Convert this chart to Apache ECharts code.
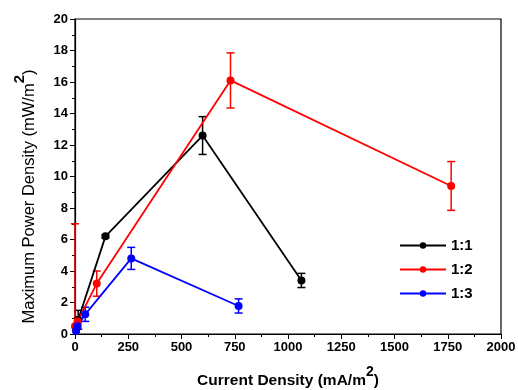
<!DOCTYPE html>
<html>
<head>
<meta charset="utf-8">
<script src="https://cdn.jsdelivr.net/npm/echarts@6/dist/echarts.min.js"></script>
<style>
  html, body { margin: 0; padding: 0; background: #fff; }
  #chart { width: 518px; height: 390px; }
</style>
</head>
<body>
<div id="chart"></div>
<script>
// ratio series
const seriesNames = ['1:1', '1:2', '1:3']
const colors = ['#000000', '#ff0000', '#0000ff']

const blackX = [15, 143, 599, 1063]
const blackY = [0.9, 6.2, 12.6, 3.4]
const blackErr = [0.6, 0.1, 1.2, 0.45]

const redX = [0, 12, 102, 730, 1766]
const redY = [0.5, 0.8, 3.2, 16.1, 9.4]
const redErr = [6.5, 0.2, 0.8, 1.75, 1.55]

const blueX = [5, 12, 48, 264, 768]
const blueY = [0.2, 0.5, 1.25, 4.8, 1.78]
const blueErr = [0.1, 0.2, 0.45, 0.7, 0.45]

const allX = [blackX, redX, blueX]
const allY = [blackY, redY, blueY]
const allErr = [blackErr, redErr, blueErr]

const chart = echarts.init(document.getElementById('chart'))

const font = 'Liberation Sans, Arial, sans-serif'

function errorBar(color) {
  return function (params, api) {
    const x = api.value(0)
    const y = api.value(1)
    const e = api.value(2)
    const lo = Math.max(y - e, 0)
    const top = api.coord([x, y + e])
    const bot = api.coord([x, lo])
    const half = 4
    const children = [
      { type: 'line', shape: { x1: top[0], y1: top[1], x2: bot[0], y2: bot[1] }, style: { stroke: color, lineWidth: 1.5 } },
      { type: 'line', shape: { x1: top[0] - half, y1: top[1], x2: top[0] + half, y2: top[1] }, style: { stroke: color, lineWidth: 1.5 } }
    ]
    if (y - e > 0) {
      children.push({ type: 'line', shape: { x1: bot[0] - half, y1: bot[1], x2: bot[0] + half, y2: bot[1] }, style: { stroke: color, lineWidth: 1.5 } })
    }
    return { type: 'group', children: children }
  }
}

const series = []
seriesNames.forEach((name, i) => {
  series.push({
    name: name,
    type: 'line',
    data: allX[i].map((x, j) => [x, allY[i][j]]),
    symbol: 'circle',
    symbolSize: 8,
    lineStyle: { color: colors[i], width: 1.8 },
    itemStyle: { color: colors[i] },
    z: 3
  })
  series.push({
    name: name + ' err',
    type: 'custom',
    renderItem: errorBar(colors[i]),
    data: allX[i].map((x, j) => [x, allY[i][j], allErr[i][j]]),
    clip: false,
    z: 2
  })
})

chart.setOption({
  animation: false,
  grid: {
    left: 75, right: 17, top: 19, bottom: 56,
    outerBoundsMode: 'none',
    show: true, borderColor: '#000', borderWidth: 1.2
  },
  legend: {
    data: seriesNames,
    orient: 'vertical',
    left: 394, top: 233,
    itemWidth: 46, itemHeight: 8, itemGap: 9,
    textStyle: { fontFamily: font, fontWeight: 'bold', fontSize: 15, color: '#000' }
  },
  xAxis: {
    type: 'value',
    min: 0, max: 2000, interval: 250,
    name: '{a|Current Density (mA/m}{s|2}{a|)}',
    nameLocation: 'middle',
    nameGap: 31,
    nameTextStyle: {
      rich: {
        a: { fontFamily: font, fontWeight: 'bold', fontSize: 15.5, color: '#000', verticalAlign: 'bottom', lineHeight: 24 },
        s: { fontFamily: font, fontWeight: 'bold', fontSize: 14, color: '#000', verticalAlign: 'top', lineHeight: 24 }
      }
    },
    axisLine: { lineStyle: { color: '#000', width: 1.2 } },
    axisTick: { inside: false, length: 5, lineStyle: { color: '#000' } },
    minorTick: { show: true, splitNumber: 2, length: 3, lineStyle: { color: '#000' } },
    axisLabel: { fontFamily: font, fontWeight: 'bold', fontSize: 13, color: '#000', margin: 7, formatter: v => String(v) },
    splitLine: { show: false }
  },
  yAxis: {
    type: 'value',
    min: 0, max: 20, interval: 2,
    name: '{a|Maximum Power Density (mW/m}{s|2}{a|)}',
    nameLocation: 'middle',
    nameGap: 37,
    nameRotate: 90,
    nameTextStyle: {
      padding: [0, 40, 0, 0],
      rich: {
        a: { fontFamily: font, fontSize: 16.5, color: '#000', verticalAlign: 'bottom', lineHeight: 26 },
        s: { fontFamily: font, fontWeight: 'bold', fontSize: 15, color: '#000', verticalAlign: 'top', lineHeight: 26 }
      }
    },
    axisLine: { lineStyle: { color: '#000', width: 1.2 } },
    axisTick: { inside: false, length: 5, lineStyle: { color: '#000' } },
    minorTick: { show: true, splitNumber: 2, length: 3, lineStyle: { color: '#000' } },
    axisLabel: { fontFamily: font, fontWeight: 'bold', fontSize: 13, color: '#000', margin: 7 },
    splitLine: { show: false }
  },
  series: series
})
</script>
</body>
</html>
